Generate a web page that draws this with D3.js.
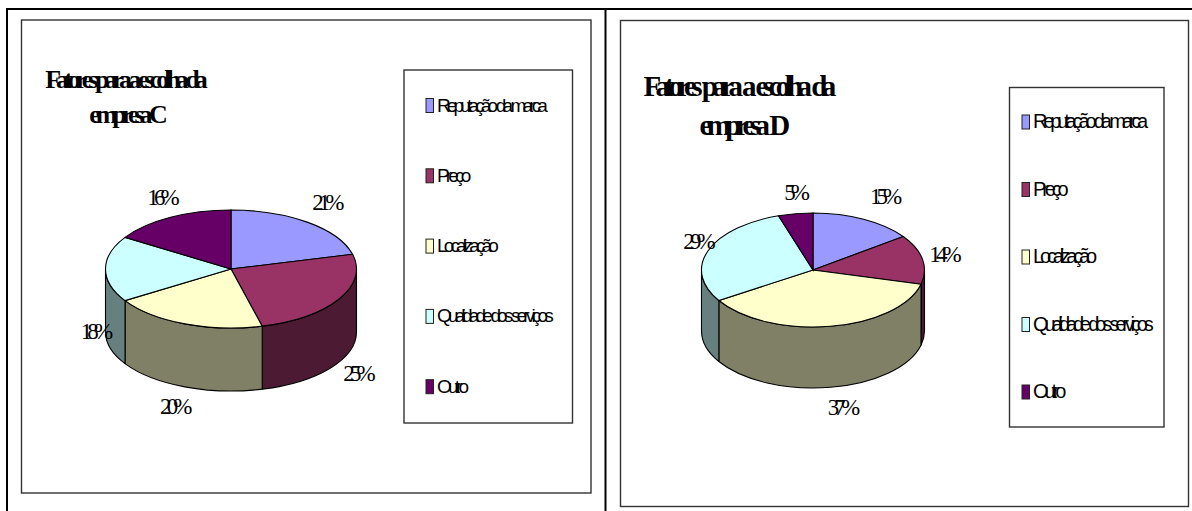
<!DOCTYPE html>
<html lang="pt">
<head>
<meta charset="utf-8">
<script src="https://cdnjs.cloudflare.com/ajax/libs/d3/7.8.5/d3.min.js"></script>
<style>
html,body{margin:0;padding:0;background:#fff;overflow:hidden}
svg{display:block}
text{fill:#000}
</style>
</head>
<body>
<svg id="root" width="1192" height="511"></svg>
<script>
// Pie slice names shared by both charts
const categories = ["Reputação da marca", "Preço", "Localização", "Qualidade dos serviços", "Outro"];
const colors = ["#9999FF", "#993366", "#FFFFCC", "#CCFFFF", "#660066"];

// Percentages per company
const valuesC = [21, 25, 20, 18, 16];
const valuesD = [15, 14, 37, 29, 5];

const titleC = ["Fatores para a escolha da", "empresa C"];
const titleD = ["Fatores para a escolha da", "empresa D"];

// Layout of each panel
const panelC = {
  values: valuesC, title: titleC,
  box: [21.5, 20, 591, 493],
  legend: [404, 70, 572.5, 423],
  pie: { cx: 231, cy: 269, rx: 125.5, ry: 59, depth: 63 },
  titleLayout: { xs: [124, 126], y: 88, gap: 35, size: 26, spacing: -5, word: 0 },
  legendText: { size: 19, spacing: -3.85, swatchX: 426, firstY: 105.5, stepY: 70.3 },
  labelOffsets: [[19, -19], [19, 75], [-10, 83], [-10, 63], [-8.5, -19]]
};
const panelD = {
  values: valuesD, title: titleD,
  box: [620.5, 20.5, 1188.5, 506.5],
  legend: [1009.5, 87.5, 1164, 427],
  pie: { cx: 813, cy: 270, rx: 111.5, ry: 57, depth: 61 },
  titleLayout: { xs: [737, 742], y: 96, gap: 39, size: 29, spacing: -5.6, word: 3 },
  legendText: { size: 20, spacing: -4.15, swatchX: 1022, firstY: 122, stepY: 67.5 },
  labelOffsets: [[21, -22], [21.5, -4], [12, 82], [-10, -9], [0, -21]]
};
const labelFont = { size: 23, spacing: -4.9 };

const svg = d3.select("#root");

// Table rules around the two panels
const rules = [[7, 9, 7, 511], [6, 9, 1192, 9], [605.5, 9, 605.5, 511]];
svg.selectAll("line.rule").data(rules).join("line").attr("class", "rule")
  .attr("x1", d => d[0]).attr("y1", d => d[1]).attr("x2", d => d[2]).attr("y2", d => d[3])
  .attr("stroke", "#000").attr("stroke-width", 2);

const pieLayout = d3.pie().sort(null).value(d => d).startAngle(0).endAngle(2 * Math.PI);

function drawPanel(p) {
  const g = svg.append("g");
  const frame = (b) => g.append("rect")
    .attr("x", b[0]).attr("y", b[1]).attr("width", b[2] - b[0]).attr("height", b[3] - b[1])
    .attr("fill", "#fff").attr("stroke", "#333").attr("stroke-width", 1.4);
  frame(p.box);
  frame(p.legend);

  // Title
  const tl = p.titleLayout;
  g.selectAll("text.title").data(p.title).join("text").attr("class", "title")
    .attr("x", (d, i) => tl.xs[i]).attr("y", (d, i) => tl.y + i * tl.gap)
    .attr("text-anchor", "middle")
    .style("font", `bold ${tl.size}px "Liberation Serif"`)
    .style("letter-spacing", tl.spacing + "px")
    .style("word-spacing", tl.word + "px")
    .text(d => d);

  // Pie: angles run clockwise from twelve o'clock, squashed into an ellipse
  const { cx, cy, rx, ry, depth } = p.pie;
  const arcs = pieLayout(p.values);
  const px = a => cx + rx * Math.sin(a);
  const py = a => cy - ry * Math.cos(a);

  // Outer wall of the slices facing the viewer
  const walls = arcs.map((a, i) => ({
    i,
    from: Math.max(a.startAngle, Math.PI / 2),
    to: Math.min(a.endAngle, 3 * Math.PI / 2)
  })).filter(w => w.to > w.from);

  const halfTone = c => { const k = d3.rgb(c); return d3.rgb(k.r / 2, k.g / 2, k.b / 2); };

  g.selectAll("path.wall").data(walls).join("path").attr("class", "wall")
    .attr("d", w => `M${px(w.from)},${py(w.from)}A${rx},${ry} 0 0 1 ${px(w.to)},${py(w.to)}` +
      `L${px(w.to)},${py(w.to) + depth}A${rx},${ry} 0 0 0 ${px(w.from)},${py(w.from) + depth}Z`)
    .attr("fill", w => halfTone(colors[w.i]))
    .attr("stroke", "#000").attr("stroke-width", 1.1).attr("stroke-linejoin", "round");

  // Top face
  const arc = d3.arc().innerRadius(0).outerRadius(rx);
  g.append("g").attr("transform", `translate(${cx},${cy}) scale(1,${ry / rx})`)
    .selectAll("path").data(arcs).join("path")
    .attr("d", arc)
    .attr("fill", (d, i) => colors[i])
    .attr("stroke", "#000").attr("stroke-width", 1.1)
    .attr("vector-effect", "non-scaling-stroke");

  // Percentage labels, placed relative to the rim point of each slice
  g.selectAll("text.pct").data(arcs).join("text").attr("class", "pct")
    .attr("x", (d, i) => px((d.startAngle + d.endAngle) / 2) + p.labelOffsets[i][0] - 1)
    .attr("y", (d, i) => py((d.startAngle + d.endAngle) / 2) + p.labelOffsets[i][1] + 7)
    .attr("text-anchor", "middle")
    .style("font", `${labelFont.size}px "Liberation Serif"`)
    .style("letter-spacing", labelFont.spacing + "px")
    .text(d => d.value + "%");

  // Legend
  const lt = p.legendText;
  const row = g.selectAll("g.item").data(categories).join("g").attr("class", "item")
    .attr("transform", (d, i) => `translate(${lt.swatchX},${lt.firstY + i * lt.stepY})`);
  row.append("rect").attr("x", 0).attr("y", -7).attr("width", 7.5).attr("height", 14)
    .attr("fill", (d, i) => colors[i]).attr("stroke", "#222").attr("stroke-width", 1);
  row.append("text").attr("x", 11).attr("y", 6)
    .style("font", `${lt.size}px "Liberation Sans"`)
    .style("letter-spacing", lt.spacing + "px")
    .text(d => d);
}

drawPanel(panelC);
drawPanel(panelD);
</script>
</body>
</html>
